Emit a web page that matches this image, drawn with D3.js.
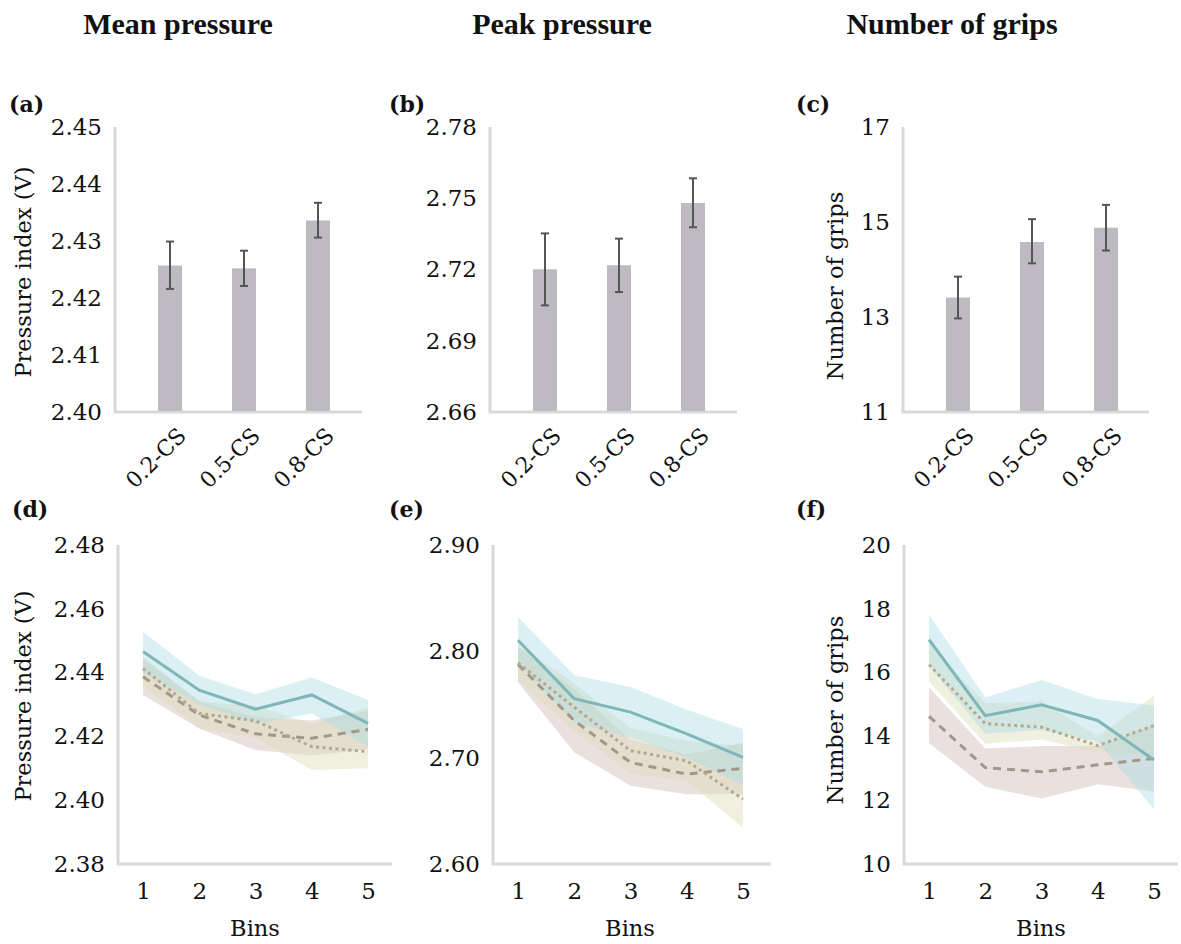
<!DOCTYPE html>
<html>
<head>
<meta charset="utf-8">
<script src="https://cdn.jsdelivr.net/npm/d3@7"></script>
<style>
  body { margin: 0; background: #fff; }
  svg text { font-family: "DejaVu Serif", serif; fill: #111; }
  .title { font-family: "Liberation Serif", serif; font-weight: bold; font-size: 30px; }
  .plabel { font-family: "DejaVu Serif", serif; font-weight: bold; font-size: 22px; }
</style>
</head>
<body>
<div id="chart"></div>
<script>
// ---- data ----
const conditions = ["0.2-CS", "0.5-CS", "0.8-CS"]
const bins = [1, 2, 3, 4, 5]

// top row: mean with error bar lower/upper
const meanPressure = [2.4257, 2.4252, 2.4336]
const meanPressureLo = [2.4216, 2.4221, 2.4306]
const meanPressureHi = [2.4299, 2.4283, 2.4367]

const peakPressure = [2.7201, 2.7218, 2.7480]
const peakPressureLo = [2.7049, 2.7105, 2.7378]
const peakPressureHi = [2.7352, 2.7330, 2.7584]

const grips = [13.41, 14.58, 14.88]
const gripsLo = [12.97, 14.13, 14.40]
const gripsHi = [13.85, 15.06, 15.36]

// bottom row: one line + band per condition (solid / dotted / dashed)
const meanBinSolid = [2.4466, 2.4345, 2.4285, 2.4330, 2.4241]
const meanBinSolidLo = [2.4400, 2.4300, 2.4240, 2.4272, 2.4168]
const meanBinSolidHi = [2.4528, 2.4390, 2.4332, 2.4385, 2.4314]
const meanBinDotted = [2.4413, 2.4272, 2.4249, 2.4168, 2.4152]
const meanBinDottedLo = [2.4360, 2.4225, 2.4195, 2.4095, 2.4100]
const meanBinDottedHi = [2.4450, 2.4310, 2.4295, 2.4240, 2.4290]
const meanBinDashed = [2.4387, 2.4267, 2.4208, 2.4194, 2.4222]
const meanBinDashedLo = [2.4330, 2.4225, 2.4157, 2.4140, 2.4160]
const meanBinDashedHi = [2.4444, 2.4310, 2.4260, 2.4250, 2.4280]

const peakBinSolid = [2.8104, 2.7554, 2.7428, 2.7224, 2.7003]
const peakBinSolidLo = [2.7890, 2.7330, 2.7190, 2.7000, 2.6740]
const peakBinSolidHi = [2.8323, 2.7774, 2.7664, 2.7450, 2.7270]
const peakBinDotted = [2.7890, 2.7475, 2.7066, 2.6970, 2.6610]
const peakBinDottedLo = [2.7720, 2.7250, 2.6850, 2.6780, 2.6340]
const peakBinDottedHi = [2.8060, 2.7700, 2.7280, 2.7160, 2.7110]
const peakBinDashed = [2.7877, 2.7349, 2.6955, 2.6845, 2.6900]
const peakBinDashedLo = [2.7710, 2.7050, 2.6736, 2.6657, 2.6657]
const peakBinDashedHi = [2.8040, 2.7640, 2.7170, 2.7030, 2.7140]

const gripBinSolid = [17.03, 14.65, 14.99, 14.50, 13.26]
const gripBinSolidLo = [16.20, 14.08, 14.20, 13.83, 11.72]
const gripBinSolidHi = [17.82, 15.22, 15.77, 15.17, 14.97]
const gripBinDotted = [16.25, 14.40, 14.29, 13.71, 14.34]
const gripBinDottedLo = [15.72, 13.77, 13.90, 13.50, 13.40]
const gripBinDottedHi = [16.90, 15.04, 15.10, 14.00, 15.28]
const gripBinDashed = [14.63, 13.02, 12.89, 13.11, 13.31]
const gripBinDashedLo = [13.79, 12.42, 12.05, 12.50, 12.27]
const gripBinDashedHi = [15.54, 13.62, 13.70, 13.70, 14.35]

const topTicks = [[2.40, 2.41, 2.42, 2.43, 2.44, 2.45], [2.66, 2.69, 2.72, 2.75, 2.78], [11, 13, 15, 17]]
const botTicks = [[2.38, 2.40, 2.42, 2.44, 2.46, 2.48], [2.60, 2.70, 2.80, 2.90], [10, 12, 14, 16, 18, 20]]
const titles = ["Mean pressure", "Peak pressure", "Number of grips"]

const svg = d3.select("#chart").append("svg")
    .attr("width", 1181)
    .attr("height", 944)

const axisColor = "#d9d9d9"
const barColor = "#bdbac1"
const tickFont = "23px"
const labelFont = "22.5px"
const series = [
    { key: "Solid", stroke: "#7fb6b8", fill: "#a9dbe4", dash: null },
    { key: "Dotted", stroke: "#b4a98f", fill: "#dcdcb8", dash: "3,3.5" },
    { key: "Dashed", stroke: "#a3978b", fill: "#cdb8b2", dash: "8,6" }
]

// column titles
const titleX = [178, 562, 952]
titles.forEach((t, i) => {
    svg.append("text").attr("class", "title")
        .attr("x", titleX[i]).attr("y", 34)
        .attr("text-anchor", "middle").text(t)
})

function yFormat(ticks) {
    return ticks[0] < 5 ? d3.format(".2f") : d3.format("d")
}

// ---- top row: bar charts ----
const topPanels = [
    { label: "(a)", lx: 9, ax: 115, end: 362, mean: meanPressure, lo: meanPressureLo, hi: meanPressureHi, ylab: "Pressure index (V)", ylx: 23, yly: 272 },
    { label: "(b)", lx: 389, ax: 490, end: 737, mean: peakPressure, lo: peakPressureLo, hi: peakPressureHi, ylab: null },
    { label: "(c)", lx: 796, ax: 903, end: 1149, mean: grips, lo: gripsLo, hi: gripsHi, ylab: "Number of grips", ylx: 835, yly: 286 }
]

topPanels.forEach((p, i) => {
    const ticks = topTicks[i]
    const y = d3.scaleLinear().domain([ticks[0], ticks[ticks.length - 1]]).range([412, 127])
    const x = d3.scalePoint().domain(conditions).range([p.ax + 55, p.ax + 203])
    const g = svg.append("g")

    g.append("text").attr("class", "plabel").attr("x", p.lx).attr("y", 112).text(p.label)

    // axis lines
    g.append("path")
        .attr("d", `M${p.ax},127V412H${p.end}`)
        .attr("fill", "none").attr("stroke", axisColor).attr("stroke-width", 3)

    const yAxis = g.append("g")
        .attr("transform", `translate(${p.ax},0)`)
        .call(d3.axisLeft(y).tickValues(ticks).tickFormat(yFormat(ticks)).tickSize(0).tickPadding(13))
    yAxis.select(".domain").remove()
    yAxis.selectAll("text").style("font-size", tickFont).style("font-family", "DejaVu Serif")

    const xAxis = g.append("g")
        .attr("transform", "translate(0,412)")
        .call(d3.axisBottom(x).tickSize(0))
    xAxis.select(".domain").remove()
    xAxis.selectAll("text")
        .attr("x", 0).attr("y", 0).attr("dy", 0)
        .attr("text-anchor", "end")
        .attr("transform", "translate(17,25) rotate(-45)")
        .style("font-size", "22px").style("font-family", "DejaVu Serif")

    const idx = d3.range(conditions.length)
    g.selectAll("rect.bar").data(idx).enter().append("rect")
        .attr("class", "bar")
        .attr("x", d => x(conditions[d]) - 12)
        .attr("width", 24)
        .attr("y", d => y(p.mean[d]))
        .attr("height", d => 411 - y(p.mean[d]))
        .attr("fill", barColor)

    // error bars
    const eb = g.selectAll("g.err").data(idx).enter().append("g").attr("class", "err")
        .attr("stroke", "#555").attr("stroke-width", 2)
    eb.append("line")
        .attr("x1", d => x(conditions[d])).attr("x2", d => x(conditions[d]))
        .attr("y1", d => y(p.lo[d])).attr("y2", d => y(p.hi[d]))
    eb.append("line")
        .attr("x1", d => x(conditions[d]) - 4).attr("x2", d => x(conditions[d]) + 4)
        .attr("y1", d => y(p.lo[d])).attr("y2", d => y(p.lo[d]))
    eb.append("line")
        .attr("x1", d => x(conditions[d]) - 4).attr("x2", d => x(conditions[d]) + 4)
        .attr("y1", d => y(p.hi[d])).attr("y2", d => y(p.hi[d]))

    if (p.ylab) {
        g.append("text")
            .attr("transform", `translate(${p.ylx},${p.yly}) rotate(-90)`)
            .attr("text-anchor", "middle").attr("dy", "0.35em")
            .style("font-size", labelFont)
            .text(p.ylab)
    }
})

// ---- bottom row: line charts with bands ----
const botPanels = [
    { label: "(d)", lx: 12, ax: 118, end: 392, data: { Solid: [meanBinSolid, meanBinSolidLo, meanBinSolidHi], Dotted: [meanBinDotted, meanBinDottedLo, meanBinDottedHi], Dashed: [meanBinDashed, meanBinDashedLo, meanBinDashedHi] }, ylab: "Pressure index (V)", ylx: 23, yly: 696 },
    { label: "(e)", lx: 389, ax: 493, end: 771, data: { Solid: [peakBinSolid, peakBinSolidLo, peakBinSolidHi], Dotted: [peakBinDotted, peakBinDottedLo, peakBinDottedHi], Dashed: [peakBinDashed, peakBinDashedLo, peakBinDashedHi] }, ylab: null },
    { label: "(f)", lx: 796, ax: 904, end: 1178, data: { Solid: [gripBinSolid, gripBinSolidLo, gripBinSolidHi], Dotted: [gripBinDotted, gripBinDottedLo, gripBinDottedHi], Dashed: [gripBinDashed, gripBinDashedLo, gripBinDashedHi] }, ylab: "Number of grips", ylx: 835, yly: 710 }
]

botPanels.forEach((p, i) => {
    const ticks = botTicks[i]
    const y = d3.scaleLinear().domain([ticks[0], ticks[ticks.length - 1]]).range([864, 545])
    const x = d3.scalePoint().domain(bins).range([p.ax + 25, p.ax + 250])
    const g = svg.append("g")

    g.append("text").attr("class", "plabel").attr("x", p.lx).attr("y", 517).text(p.label)

    g.append("path")
        .attr("d", `M${p.ax},545V864H${p.end}`)
        .attr("fill", "none").attr("stroke", axisColor).attr("stroke-width", 3)

    const yAxis = g.append("g")
        .attr("transform", `translate(${p.ax},0)`)
        .call(d3.axisLeft(y).tickValues(ticks).tickFormat(yFormat(ticks)).tickSize(0).tickPadding(13))
    yAxis.select(".domain").remove()
    yAxis.selectAll("text").style("font-size", tickFont).style("font-family", "DejaVu Serif")

    const xAxis = g.append("g")
        .attr("transform", "translate(0,864)")
        .call(d3.axisBottom(x).tickSize(0).tickPadding(19))
    xAxis.select(".domain").remove()
    xAxis.selectAll("text").style("font-size", tickFont).style("font-family", "DejaVu Serif")

    g.append("text")
        .attr("x", p.ax + 137).attr("y", 936)
        .attr("text-anchor", "middle")
        .style("font-size", labelFont)
        .text("Bins")

    const idx = d3.range(bins.length)
    const area = (lo, hi) => d3.area()
        .x(d => x(bins[d])).y0(d => y(lo[d])).y1(d => y(hi[d]))(idx)
    const line = (v) => d3.line().x(d => x(bins[d])).y(d => y(v[d]))(idx)

    // bands first, then lines on top
    series.slice().reverse().forEach(s => {
        const [, lo, hi] = p.data[s.key]
        g.append("path").attr("d", area(lo, hi))
            .attr("fill", s.fill).attr("fill-opacity", 0.42)
    })
    series.slice().reverse().forEach(s => {
        const [v] = p.data[s.key]
        g.append("path").attr("d", line(v))
            .attr("fill", "none").attr("stroke", s.stroke)
            .attr("stroke-width", 3)
            .attr("stroke-dasharray", s.dash)
    })

    if (p.ylab) {
        g.append("text")
            .attr("transform", `translate(${p.ylx},${p.yly}) rotate(-90)`)
            .attr("text-anchor", "middle").attr("dy", "0.35em")
            .style("font-size", labelFont)
            .text(p.ylab)
    }
})
</script>
</body>
</html>
